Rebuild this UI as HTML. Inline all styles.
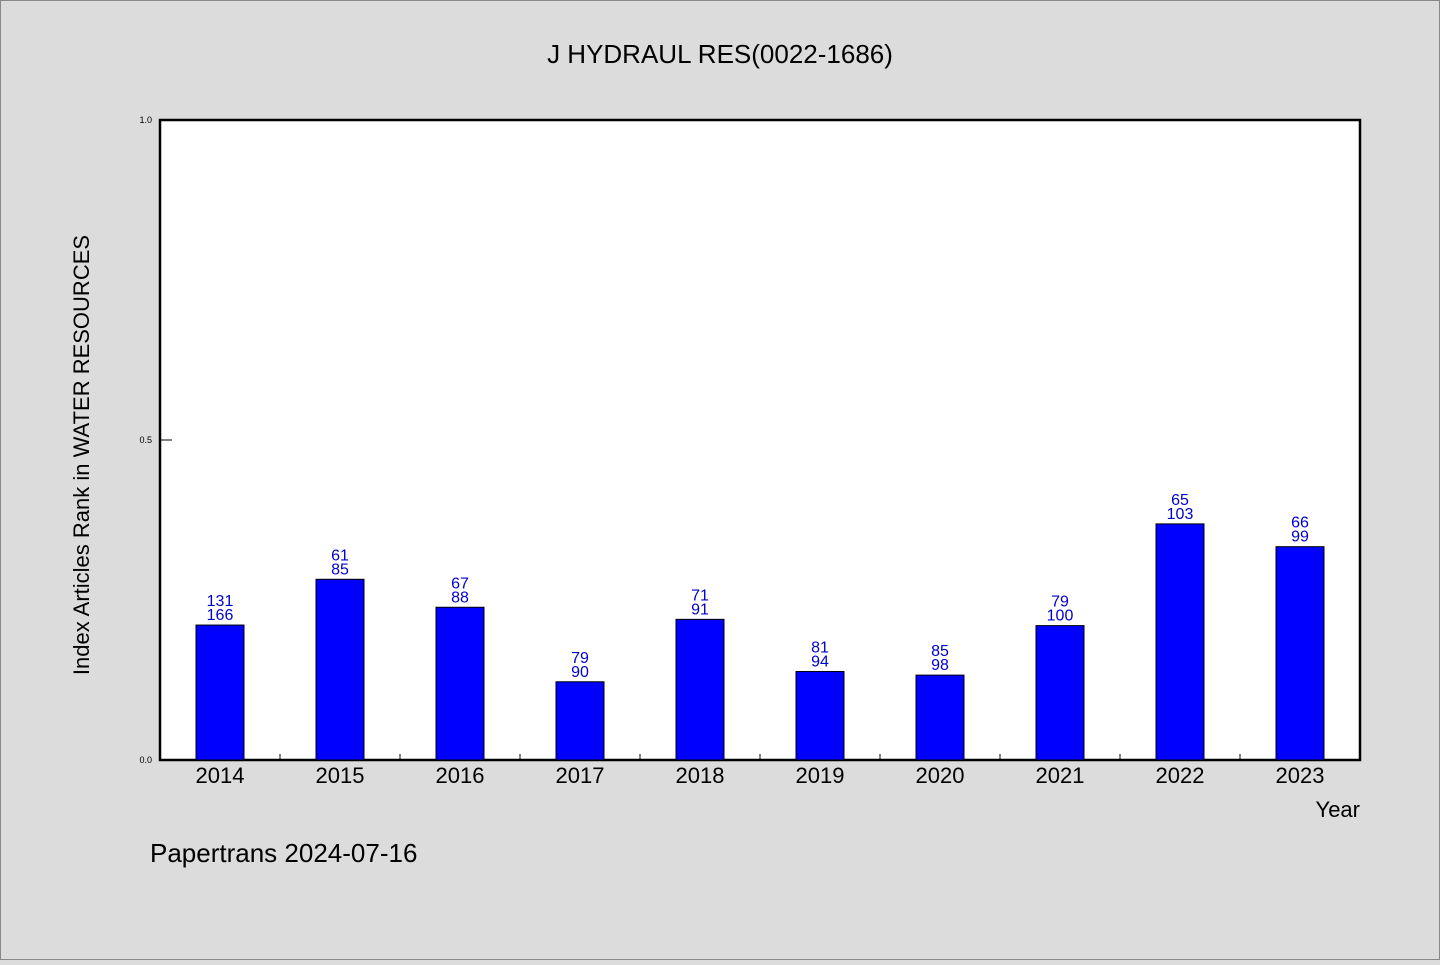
<!DOCTYPE html>
<html><head><meta charset="utf-8"><style>
body{margin:0;background:#dcdcdc;}
svg text{font-family:"WenQuanYi Zen Hei","Liberation Sans",sans-serif;}
</style></head><body>
<svg width="1440" height="960" xmlns="http://www.w3.org/2000/svg">
<rect x="0.5" y="0.5" width="1439" height="959" fill="#dcdcdc" stroke="#888"/>
<text x="720" y="63" font-size="26" text-anchor="middle">J HYDRAUL RES(0022-1686)</text>
<rect x="160" y="120" width="1200" height="640" fill="#fff" stroke="#000" stroke-width="2.5"/>
<g id="yaxis"></g>
<g id="xaxis"></g>
<g id="bars"></g>
<text transform="translate(89,455) rotate(-90)" font-size="22" text-anchor="middle">Index Articles Rank in WATER RESOURCES</text>
<text x="1360" y="817" font-size="22" text-anchor="end">Year</text>
<text x="150" y="862" font-size="26">Papertrans 2024-07-16</text>
</svg>
<script>
const years=["2014","2015","2016","2017","2018","2019","2020","2021","2022","2023"];
const ranks=[131,61,67,79,71,81,85,79,65,66];
const totals=[166,85,88,90,91,94,98,100,103,99];
const yTicks=[0,0.5,1.0];
const yTickLabels=["0.0","0.5","1.0"];
const NS="http://www.w3.org/2000/svg";
const X0=160,W=1200,Y0=760,H=640;
const step=W/years.length;
const xc=i=>X0+step*(i+0.5);
const ys=v=>Y0-v*H;
function mk(t,a,p){const e=document.createElementNS(NS,t);for(const k in a)e.setAttribute(k,a[k]);p.appendChild(e);return e;}
const ya=document.getElementById('yaxis'),xa=document.getElementById('xaxis'),bg=document.getElementById('bars');
yTicks.forEach((v,i)=>{
const l=mk('line',{x1:X0,x2:X0+12,y1:ys(v),y2:ys(v),stroke:'#000'},ya);


const t=mk('text',{x:X0-8,y:ys(v)+3,'font-size':9,'text-anchor':'end'},ya);
t.textContent=yTickLabels[i];


});
years.forEach((y,i)=>{
if(i>0){const l=mk('line',{x1:X0+step*i,x2:X0+step*i,y1:Y0,y2:Y0-6,stroke:'#000'},xa);

}
const t=mk('text',{x:xc(i),y:Y0+23,'font-size':22,'text-anchor':'middle'},xa);
t.textContent=y;


const v=1-ranks[i]/totals[i];
const r=mk('rect',{x:xc(i)-24,y:ys(v),width:48,height:Y0-ys(v),fill:'#0000ff',stroke:'#000'},bg);


const a=mk('text',{x:xc(i),y:ys(v)-19,'font-size':16,'text-anchor':'middle',fill:'#0000cc'},bg);
a.textContent=ranks[i];


const b=mk('text',{x:xc(i),y:ys(v)-5,'font-size':16,'text-anchor':'middle',fill:'#0000cc'},bg);
b.textContent=totals[i];


});
</script>
</body></html>
